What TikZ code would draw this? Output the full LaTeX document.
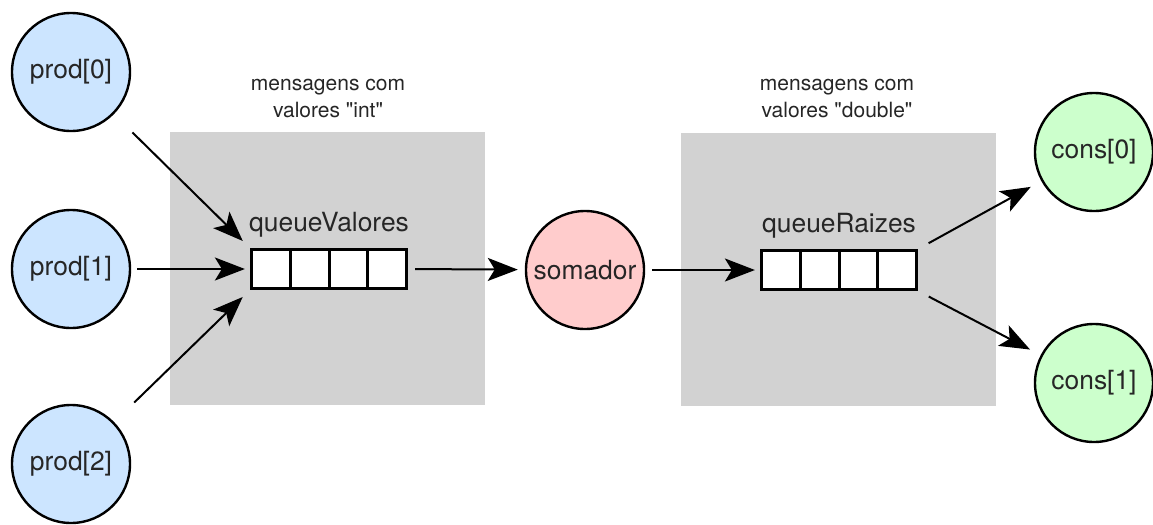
\documentclass[tikz,border=0pt]{standalone}
\usepackage{fontspec}
\setmainfont{TeX Gyre Heros}[Ligatures=TeXOff]
\usetikzlibrary{matrix,positioning,arrows.meta,backgrounds}

\definecolor{prodblue}{RGB}{204,229,255}
\definecolor{somapink}{RGB}{255,204,204}
\definecolor{consgreen}{RGB}{204,255,204}
\definecolor{panelgray}{RGB}{210,210,210}

\begin{document}
\begin{tikzpicture}[x=0.5pt,y=-0.5pt,
proc/.style={circle, draw, line width=1.2pt, minimum size=59pt, inner sep=0pt, text=black!85, font=\fontsize{13.2}{15}\selectfont},
panel/.style={fill=panelgray, minimum width=157.5pt, minimum height=136.5pt, inner sep=0pt},
queue/.style={matrix of nodes, inner sep=0pt, nodes={draw, fill=white, line width=1.5pt, minimum width=19.4pt, minimum height=19.5pt, inner sep=0pt}, column sep=-1.5pt, nodes in empty cells},
qlabel/.style={text=black!85, font=\fontsize{13.2}{15}\selectfont},
note/.style={align=center, text=black!85, font=\fontsize{10.5}{13.5}\selectfont},
msg/.style={-{Stealth[length=15pt,width=11.5pt,inset=3.5pt]}, line width=1pt}]

\useasboundingbox (0,0) rectangle (1153,525);

\node[panel] (box1) at (327.5,268.5) {};
\node[panel] (box2) at (838.5,269.5) {};

\node[note] (note1) at (328,98) {mensagens com\\valores "int"};
\node[note] (note2) at (837,98) {mensagens com\\valores "double"};

\matrix[queue] (q1) at (329,269) { & & & \\};
\matrix[queue] (q2) at (839,270) { & & & \\};

\node[qlabel, above=1.5pt of q1] (q1name) {queueValores};
\node[qlabel, above=1.5pt of q2] (q2name) {queueRaizes};

\node[proc, fill=prodblue] (p0) at (71,72) {prod[0]};
\node[proc, fill=prodblue] (p1) at (71,269) {prod[1]};
\node[proc, fill=prodblue] (p2) at (71,464) {prod[2]};

\node[proc, fill=somapink] (soma) at (585,270) {somador};

\node[proc, fill=consgreen] (c0) at (1094,152) {cons[0]};
\node[proc, fill=consgreen] (c1) at (1094,383) {cons[1]};

\draw[msg, shorten <=13pt, shorten >=5pt] (p0) -- (q1-1-1.north west);
\draw[msg, shorten <=3pt, shorten >=2.5pt] (p1) -- (q1-1-1.west);
\draw[msg, shorten <=14pt, shorten >=5pt] (p2) -- (q1-1-1.south west);
\draw[msg, shorten <=3.5pt, shorten >=3.5pt] (q1-1-4.east) -- (soma);
\draw[msg, shorten <=3.5pt, shorten >=2.5pt] (soma) -- (q2-1-1.west);
\draw[msg, shorten <=6pt, shorten >=6pt] (q2-1-4.north east) -- (c0);
\draw[msg, shorten <=6pt, shorten >=6pt] (q2-1-4.south east) -- (c1);
\end{tikzpicture}
\end{document}
